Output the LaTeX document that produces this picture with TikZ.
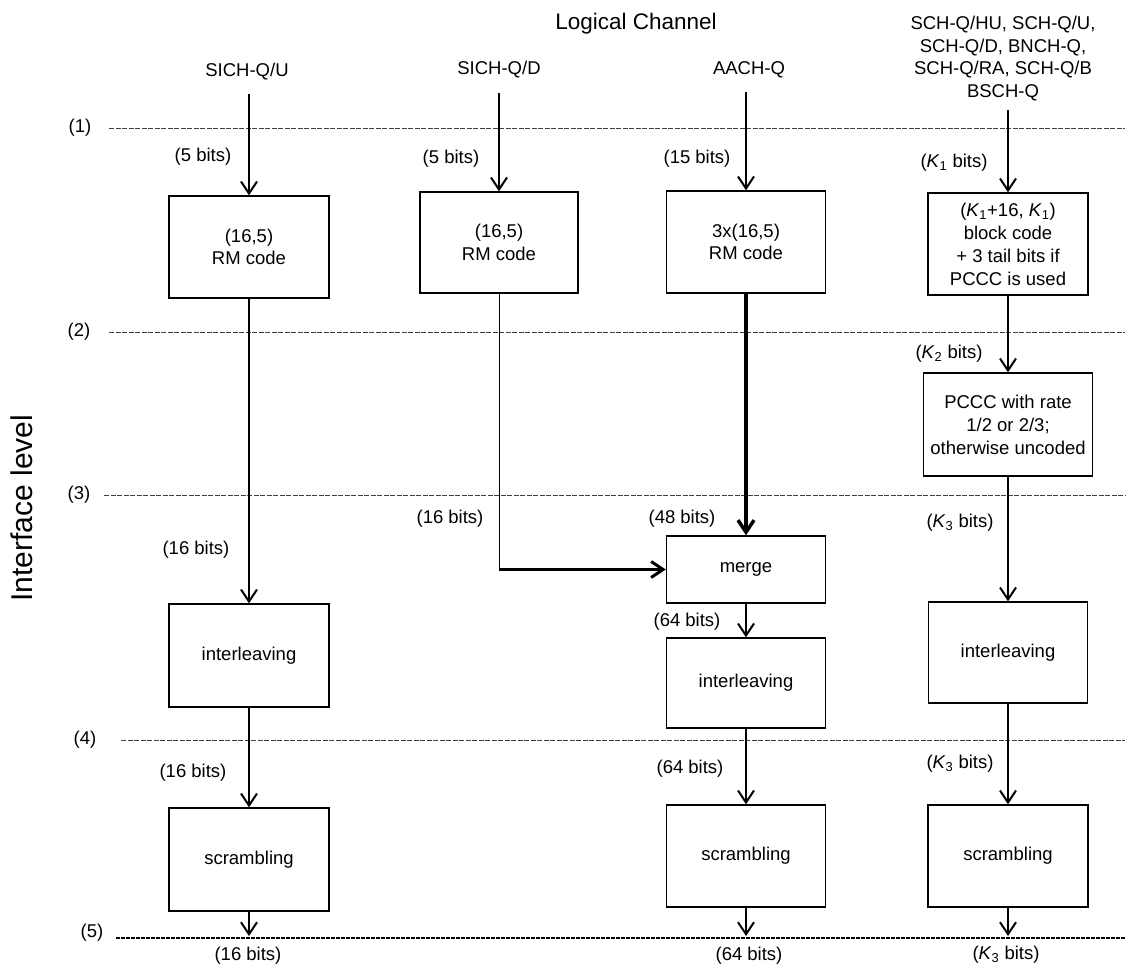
\documentclass[tikz,border=0pt]{standalone}
\usepackage{fontspec}
\setmainfont{Liberation Sans}
\usetikzlibrary{arrows.meta}
\newcommand{\kbits}[1]{(\textit{K}\textsubscript{#1} bits)}
\begin{document}
\begin{tikzpicture}[x=1pt, y=-1pt,
    every node/.style={font=\fontsize{18.5}{22.5}\selectfont, inner sep=0pt},
    blk/.style={draw, line width=1.4pt, align=center, minimum width=160pt, minimum height=102pt},
    flow/.style={line width=2pt, -{Straight Barb[length=12pt, width=16pt]}},
    lvl/.style={line width=0.8pt, dash pattern=on 5pt off 1.5pt, black!75}]
  \useasboundingbox (0, 0) rectangle (1129, 966);
  \node (title) at (636, 24) {\fontsize{22.5}{27}\selectfont Logical Channel};
  \node[rotate=90] (ilev) at (22, 508) {\fontsize{30}{36}\selectfont Interface level};
  \node (hU) at (247, 72) {SICH-Q/U};
  \node (hD) at (499, 70) {SICH-Q/D};
  \node (hA) at (749, 70) {AACH-Q};
  \node[align=center] (hS) at (1003, 58.5) {SCH-Q/HU, SCH-Q/U,\\SCH-Q/D, BNCH-Q,\\SCH-Q/RA, SCH-Q/B\\BSCH-Q};
  \node (lv1) at (80, 128) {(1)};
  \node (lv2) at (79, 332) {(2)};
  \node (lv3) at (79, 495) {(3)};
  \node (lv4) at (85, 740) {(4)};
  \node (lv5) at (92, 933) {(5)};
  \draw[lvl] (109, 128) -- (1125, 128);
  \draw[lvl] (109, 332) -- (1125, 332);
  \draw[lvl] (104, 495) -- (1125, 495);
  \draw[lvl] (121, 740) -- (1125, 740);
  \draw[line width=2pt, dash pattern=on 4pt off 1pt] (116, 938) -- (1125, 938);
  \node[blk] (rm1) at (249, 247) {(16,5)\\RM code};
  \node[blk, minimum width=158pt, minimum height=101pt] (rm2) at (499, 242.5) {(16,5)\\RM code};
  \node[blk, minimum width=159pt] (rm3) at (746, 242) {3x(16,5)\\RM code};
  \node[blk, font=\fontsize{18.5}{23}\selectfont] (rm4) at (1008, 244) {(\textit{K}\textsubscript{1}+16, \textit{K}\textsubscript{1})\\block code\\+ 3 tail bits if\\PCCC is used};
  \node[blk, minimum width=169pt, minimum height=103pt, font=\fontsize{18.5}{23}\selectfont] (pccc) at (1008, 424.5) {PCCC with rate\\1/2 or 2/3;\\otherwise uncoded};
  \node[blk, minimum width=159pt, minimum height=67pt] (merge) at (746, 569.5) {merge};
  \node[blk, minimum height=103pt] (il1) at (249, 655.5) {interleaving};
  \node[blk, minimum width=159pt, minimum height=90pt] (il2) at (746, 683) {interleaving};
  \node[blk, minimum width=159pt, minimum height=101pt] (il3) at (1008, 652.5) {interleaving};
  \node[blk, minimum height=103pt] (sc1) at (249, 859.5) {scrambling};
  \node[blk, minimum width=159pt] (sc2) at (746, 856) {scrambling};
  \node[blk] (sc3) at (1008, 856) {scrambling};
  \coordinate (sU) at (249, 94);
  \coordinate (sD) at (499, 93);
  \coordinate (sA) at (746, 92);
  \coordinate (sS) at (1008, 110);
  \coordinate (eU) at (249, 936);
  \coordinate (eA) at (746, 936);
  \coordinate (eS) at (1008, 936);
  \draw[flow] (sU) -- (rm1.north);
  \draw[flow] (rm1) -- (il1);
  \draw[flow] (il1) -- (sc1);
  \draw[flow] (sc1) -- (eU);
  \draw[flow] (sD) -- (rm2.north);
  \draw[line width=0.9pt] (rm2.south) -- (rm2.south |- merge.west) coordinate (cD);
  \draw[flow, line width=3pt] (cD) -- (merge.west);
  \draw[flow] (sA) -- (rm3.north);
  \draw[flow, line width=3.5pt] (rm3) -- (merge);
  \draw[flow] (merge) -- (il2);
  \draw[flow] (il2) -- (sc2);
  \draw[flow] (sc2) -- (eA);
  \draw[flow] (sS) -- (rm4.north);
  \draw[flow] (rm4) -- (pccc);
  \draw[flow] (pccc) -- (il3);
  \draw[flow] (il3) -- (sc3);
  \draw[flow] (sc3) -- (eS);
  \node (b1) at (203, 157) {(5 bits)};
  \node (b2) at (451, 159) {(5 bits)};
  \node (b3) at (697, 159) {(15 bits)};
  \node (b4) at (954, 163) {\kbits{1}};
  \node (b5) at (949, 354) {\kbits{2}};
  \node (b6) at (196, 550) {(16 bits)};
  \node (b7) at (450, 519) {(16 bits)};
  \node (b8) at (682, 519) {(48 bits)};
  \node (b9) at (960, 523) {\kbits{3}};
  \node (b10) at (687, 622) {(64 bits)};
  \node (b11) at (193, 773) {(16 bits)};
  \node (b12) at (690, 769) {(64 bits)};
  \node (b13) at (960, 764) {\kbits{3}};
  \node (b14) at (248, 956) {(16 bits)};
  \node (b15) at (749, 956) {(64 bits)};
  \node (b16) at (1006, 955) {\kbits{3}};
\end{tikzpicture}
\end{document}
